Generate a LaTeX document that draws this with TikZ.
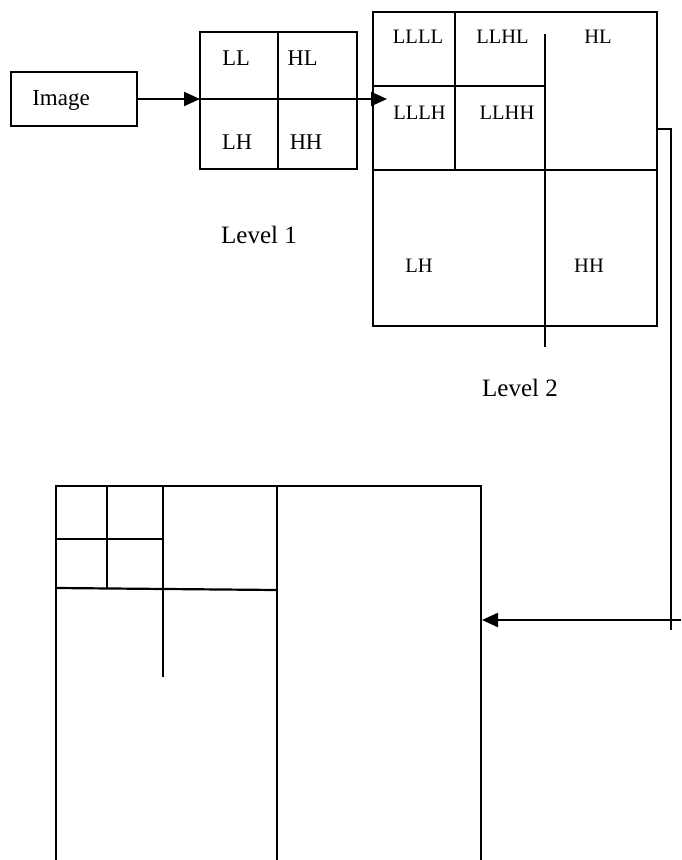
\documentclass[tikz,border=0pt]{standalone}
\usepackage{fontspec}
\setmainfont{Liberation Serif}
\usetikzlibrary{arrows.meta}
\begin{document}
\begin{tikzpicture}[x=1pt,y=-1pt,line width=2.2pt,
  box/.style={draw,inner sep=0pt,outer sep=0pt},
  big/.style={font=\fontsize{22.5}{24}\selectfont,inner sep=0pt,anchor=base},
  sml/.style={font=\fontsize{20.5}{22}\selectfont,inner sep=0pt,anchor=base},
  levtxt/.style={font=\fontsize{25}{28}\selectfont,inner sep=0pt,anchor=base},
  tip/.style={-{Triangle[length=16pt,width=14pt]}}]
\useasboundingbox (0,0) rectangle (681,860);
% Input image box
\node[box,minimum width=126pt,minimum height=54pt] (img) at (74,99) {};
\node[font=\fontsize{23}{26}\selectfont,inner sep=0pt,anchor=base] (imgt) at (61,105) {Image};
% Level 1
\node[box,minimum width=157pt,minimum height=137pt] (l1) at (278.5,100.5) {};
\coordinate (l1in) at (200,99);
\draw[tip] (img.east |- l1in) -- (l1in);
\draw (278,32) -- (278,169);
\coordinate (a2) at (387,99);
\draw[tip] (l1in) -- (a2);
\node[big] (ll) at (236,65) {LL};
\node[big] (hl) at (302.5,65) {HL};
\node[big] (lh) at (237,149) {LH};
\node[big] (hh) at (306,149) {HH};
\node[levtxt] (lev1) at (259,243) {Level 1};
% Level 2
\node[box,minimum width=284pt,minimum height=314pt] (l2) at (515,169) {};
\draw (455,12) -- (455,170);
\draw (373,86) -- (545,86);
\draw (373,170) -- (657,170);
\draw (545,34) -- (545,347);
\node[sml] (llll) at (418,43) {LLLL};
\node[sml] (llhl) at (502.5,43) {LLHL};
\node[sml] (hl2) at (598,43) {HL};
\node[sml] (lllh) at (419.5,119) {LLLH};
\node[sml] (llhh) at (507,119) {LLHH};
\node[sml] (lh2) at (419,272) {LH};
\node[sml] (hh2) at (589,272) {HH};
\node[levtxt] (lev2) at (520,396) {Level 2};
% Connector to level 3
\coordinate (c1) at (671,129);
\coordinate (c2) at (671,630);
\coordinate (c3) at (681,620);
\coordinate (l3r) at (482,620);
\draw (l2.east |- c1) -- (c1) -- (c2);
\draw[tip] (c3) -- (l3r);
% Level 3
\draw (56,860) -- (56,486) -- (481,486) -- (481,860);
\draw (277,486) -- (277,860);
\draw (107,486) -- (107,589);
\draw (163,486) -- (163,677);
\draw (56,539) -- (163,539);
\draw (56,588) -- (277,590);
\end{tikzpicture}
\end{document}
